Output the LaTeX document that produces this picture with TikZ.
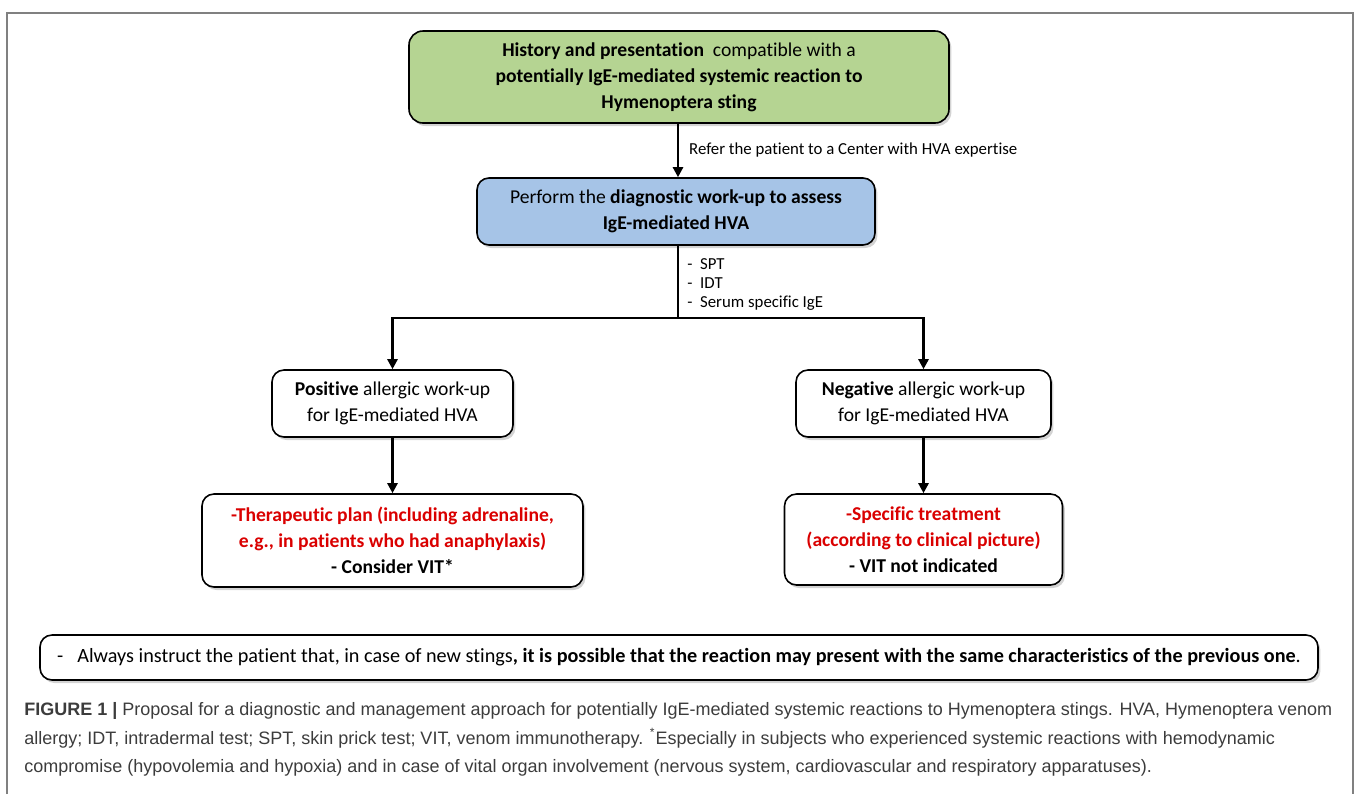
\documentclass[tikz,border=0pt]{standalone}
\usepackage{fontspec}
\setmainfont{Carlito}[Ligatures=NoCommon]
\newfontfamily\capfont{Liberation Sans}
\usepackage{tikz}
\usetikzlibrary{positioning}
\usetikzlibrary{arrows.meta}
\usetikzlibrary{shadows}
\definecolor{boxgreen}{RGB}{181,212,146}
\definecolor{boxblue}{RGB}{166,196,231}
\definecolor{planred}{RGB}{218,0,0}
\definecolor{framegray}{RGB}{128,128,128}
\definecolor{capgray}{RGB}{60,60,60}
\tikzset {
  % rounded boxes of the flow chart
  flowbox/.style = {draw, rounded corners=6pt, line width=0.8pt, align=center, fill=white,
    font=\fontsize{9.8}{13}\selectfont, inner sep=0pt,
    drop shadow={shadow xshift=1.2pt, shadow yshift=-1.5pt, opacity=0.35}},
  historybox/.style = {flowbox, fill=boxgreen, rounded corners=7pt},
  workupbox/.style = {flowbox, fill=boxblue},
  % arrows and the words beside them
  flowarrow/.style = {-{Triangle[length=5pt,width=5pt]}, line width=1.2pt},
  smalltext/.style = {font=\fontsize{8.4}{9.5}\selectfont, align=left, inner sep=0pt},
}

\begin{document}
\begin{tikzpicture}[x=0.5pt, y=-0.5pt]
        \useasboundingbox (0,0) rectangle (1358,794);
        \draw[framegray, line width=0.8pt] (7,794) -- (7,13) -- (1353,13) -- (1353,794);

        \node[historybox, minimum width=270pt, minimum height=46pt] (hist) at (679,77)
          {\textbf{History and presentation}\ \ compatible with a\\
           \textbf{potentially IgE-mediated systemic reaction to}\\
           \textbf{Hymenoptera sting}};
        \node[workupbox, minimum width=199pt, minimum height=33.5pt] (work) at (676,211.5)
          {Perform the \textbf{diagnostic work-up to assess}\\ \textbf{IgE-mediated HVA}};
        \node[flowbox, minimum width=120.5pt, minimum height=33.5pt] (pos) at (392.5,403.5)
          {\textbf{Positive} allergic work-up\\ for IgE-mediated HVA};
        \node[flowbox, minimum width=127.5pt, minimum height=33.5pt] (neg) at (923.5,403.5)
          {\textbf{Negative} allergic work-up\\ for IgE-mediated HVA};
        \node[flowbox, minimum width=190.5pt, minimum height=46.5pt, font=\fontsize{9.8}{13}\selectfont\bfseries] (ther)
          [below of=pos, node distance=68.5pt]
          {\textcolor{planred}{-Therapeutic plan (including adrenaline,}\\
           \textcolor{planred}{e.g., in patients who had anaphylaxis)}\\ - Consider VIT*};
        \node[flowbox, minimum width=139pt, minimum height=45.5pt, font=\fontsize{9.8}{13}\selectfont\bfseries] (spec)
          [below of=neg, node distance=68pt]
          {\textcolor{planred}{-Specific treatment}\\
           \textcolor{planred}{(according to clinical picture)}\\ - VIT not indicated};
        \node[flowbox, minimum width=639pt, minimum height=22.5pt, font=\fontsize{10.1}{13}\selectfont] (note) at (679,657.5)
          {-\hspace{7pt}Always instruct the patient that, in case of new stings\textbf{, it is possible that the reaction may present with the same characteristics of the previous one}.};

        \coordinate (split) at (678,318);
        \draw[flowarrow] (hist.south -| split) -- (work.north -| split)
          node[smalltext, anchor=west, pos=0.5, xshift=5pt] (refer) {Refer the patient to a Center with HVA expertise};
        \draw[line width=1.2pt] (work.south -| split) -- (split);
        \node[smalltext, anchor=north west] (tests) at (687,258)
          {-\ \ SPT\\ -\ \ IDT\\ -\ \ Serum specific IgE};
        \draw[flowarrow] (split) -| (pos);
        \draw[flowarrow] (split) -| (neg);
        \draw[flowarrow] (pos) -- (ther);
        \draw[flowarrow] (neg) -- (spec);

        \node[anchor=north west, align=left, inner sep=0pt, text=capgray,
          font=\capfont\fontsize{9}{14.3}\selectfont] (caption) at (24,702)
          {\textbf{FIGURE 1 |} Proposal for a diagnostic and management approach for potentially IgE-mediated systemic reactions to Hymenoptera stings. HVA, Hymenoptera venom\\
           allergy; IDT, intradermal test; SPT, skin prick test; VIT, venom immunotherapy. \textsuperscript{*}Especially in subjects who experienced systemic reactions with hemodynamic\\
           compromise (hypovolemia and hypoxia) and in case of vital organ involvement (nervous system, cardiovascular and respiratory apparatuses).};
      \end{tikzpicture}
\end{document}
